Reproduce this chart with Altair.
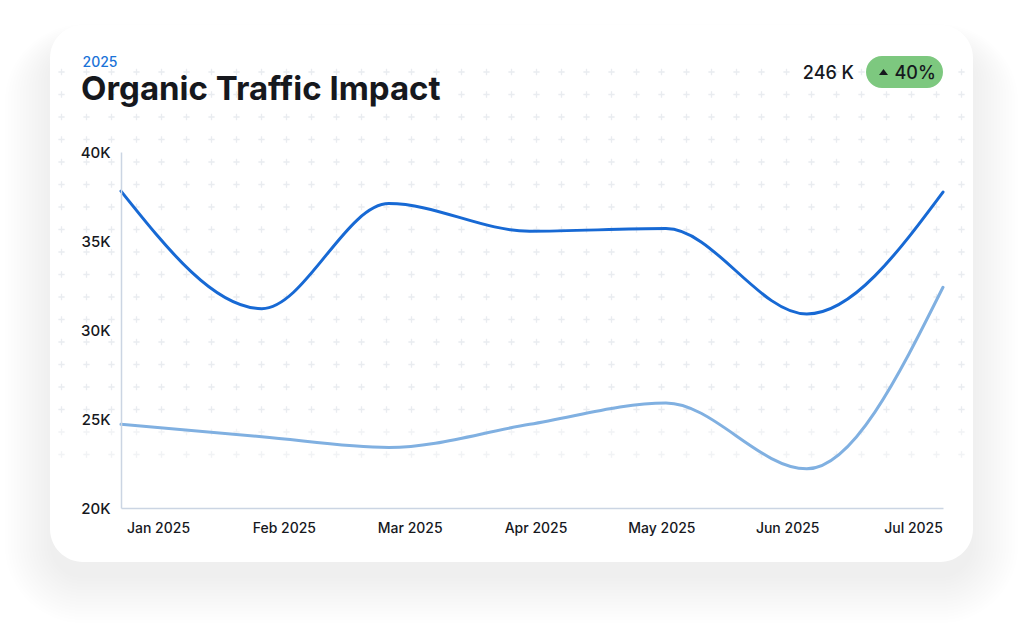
import altair as alt
import pandas as pd

# ---- data -------------------------------------------------------------
months = ["2025-01-01", "2025-02-01", "2025-03-01", "2025-04-01",
          "2025-05-01", "2025-06-01", "2025-07-01"]
organic = [37800, 31200, 37100, 35550, 35700, 30900, 37750]
previous = [24700, 24000, 23400, 24700, 25900, 22200, 32400]

x_labels = ["Jan 2025", "Feb 2025", "Mar 2025", "Apr 2025",
            "May 2025", "Jun 2025", "Jul 2025"]
y_ticks = [20000, 25000, 30000, 35000, 40000]

kicker = "2025"
title = "Organic Traffic Impact"
total_label = "246 K"
change_label = "40%"

series_names = ["Organic traffic", "Previous period"]
series_colors = ["#1769d4", "#80b0e1"]

# ---- layout -----------------------------------------------------------
W, H = 822, 356            # plot area
PL, PT = 121, 152          # plot origin inside the 1024x639 page
FONT = "Inter"
INK = "#16181d"
AXIS_LINE = "#cbd5e3"

rows = []
for m, a, b in zip(months, organic, previous):
    rows.append({"month": m, "series": series_names[0], "visits": a})
    rows.append({"month": m, "series": series_names[1], "visits": b})
df = pd.DataFrame(rows)

one = pd.DataFrame({"k": [0]})

# card geometry in page pixels, converted to plot-relative pixels
cx0, cy0, cx1, cy1, cr = 50, 25, 973, 562, 33

layers = []

# soft drop shadow built from stacked translucent rounded rects
for i in range(16):
    e = 3 * i
    layers.append(
        alt.Chart(one).mark_rect(
            cornerRadius=cr + e, color="#55658c", opacity=0.0065
        ).encode(
            x=alt.value(cx0 - e - PL), x2=alt.value(cx1 + e - PL),
            y=alt.value(cy0 + 22 - e * 0.5 - PT), y2=alt.value(cy1 + 16 + e - PT),
        )
    )

# white card
layers.append(
    alt.Chart(one).mark_rect(cornerRadius=cr, color="white").encode(
        x=alt.value(cx0 - PL), x2=alt.value(cx1 - PL),
        y=alt.value(cy0 - PT), y2=alt.value(cy1 - PT),
    )
)

# faint plus-sign backdrop pattern
n_cols, n_rows = 37, 18
pattern = (
    alt.Chart(alt.sequence(0, n_cols * n_rows, as_="i"))
    .transform_calculate(
        col=f"datum.i % {n_cols}",
        row=f"floor(datum.i / {n_cols})",
    )
    .transform_calculate(
        px=f"61.5 + 25 * datum.col - {PL}",
        py=f"72 + 22.5 * datum.row - {PT}",
        op=f"datum.row >= {n_rows - 2} ? 0.6 : 1",
    )
    .mark_point(
        shape="M-1,0L1,0M0,-1L0,1", filled=False, size=40,
        strokeWidth=1.3, color="#e9ecf0",
    )
    .encode(
        x=alt.X("px:Q", scale=None, axis=None),
        y=alt.Y("py:Q", scale=None, axis=None),
        opacity=alt.Opacity("op:Q", scale=None, legend=None),
    )
)
layers.append(pattern)

# the two traffic lines
lines = (
    alt.Chart(df)
    .mark_line(interpolate="monotone", strokeWidth=3, strokeCap="round")
    .encode(
        x=alt.X("month:T", scale=alt.Scale(nice=False),
                axis=alt.Axis(orient="bottom", labels=False, ticks=False,
                              grid=False, title=None, domainColor=AXIS_LINE,
                              domainWidth=1.5, zindex=1)),
        y=alt.Y("visits:Q",
                scale=alt.Scale(domain=[y_ticks[0], y_ticks[-1]], nice=False, zero=False),
                axis=alt.Axis(values=y_ticks, labelExpr="datum.value / 1000 + 'K'",
                              ticks=False, grid=False, title=None,
                              domainColor=AXIS_LINE, domainWidth=1.5,
                              labelFont=FONT, labelFontSize=15, labelFontWeight=500,
                              labelColor=INK, labelPadding=11, zindex=1)),
        color=alt.Color("series:N",
                        scale=alt.Scale(domain=series_names, range=series_colors),
                        legend=None),
    )
)
layers.append(lines)

# month labels along the bottom
month_axis = (
    alt.Chart(pd.DataFrame({"label": x_labels}))
    .mark_point(opacity=0)
    .encode(
        x=alt.X("label:N", sort=x_labels,
                scale=alt.Scale(type="point", domain=x_labels, range=[37, 792],
                                padding=0),
                axis=alt.Axis(orient="bottom", domain=False, ticks=False, grid=False,
                              title=None, labelAngle=0, labelFont=FONT,
                              labelFontSize=14, labelFontWeight=500, labelColor=INK,
                              labelPadding=13, labelBaseline="top", zindex=1)),
        y=alt.value(0),
    )
)
layers.append(month_axis)

# header texts
layers.append(
    alt.Chart(one).mark_text(
        text=kicker, font=FONT, fontSize=14, fontWeight=500, color="#1a73d8",
        align="left", baseline="alphabetic",
    ).encode(x=alt.value(82.5 - PL), y=alt.value(67 - PT))
)
layers.append(
    alt.Chart(one).mark_text(
        text=title, font=FONT, fontSize=33, fontWeight=700, color=INK,
        align="left", baseline="alphabetic",
    ).encode(x=alt.value(81 - PL), y=alt.value(100 - PT))
)
layers.append(
    alt.Chart(one).mark_text(
        text=total_label, font=FONT, fontSize=18, fontWeight=500, color=INK,
        align="right", baseline="alphabetic",
    ).encode(x=alt.value(854 - PL), y=alt.value(78.5 - PT))
)

# green change badge
layers.append(
    alt.Chart(one).mark_rect(cornerRadius=16, color="#7dc87f").encode(
        x=alt.value(866 - PL), x2=alt.value(943 - PL),
        y=alt.value(56 - PT), y2=alt.value(88 - PT),
    )
)
layers.append(
    alt.Chart(one).mark_point(
        shape="M-1,0.65L1,0.65L0,-0.65Z", filled=True, size=81,
        color=INK, opacity=1,
    ).encode(x=alt.value(883.5 - PL), y=alt.value(72 - PT))
)
layers.append(
    alt.Chart(one).mark_text(
        text=change_label, font=FONT, fontSize=18, fontWeight=500, color=INK,
        align="left", baseline="alphabetic",
    ).encode(x=alt.value(894.5 - PL), y=alt.value(78.5 - PT))
)

chart = (
    alt.layer(*layers)
    .resolve_scale(x="independent", y="independent")
    .properties(
        width=W, height=H,
        autosize=alt.AutoSizeParams(type="none"),
        padding={"left": PL, "top": PT, "right": 1024 - PL - W, "bottom": 639 - PT - H},
        background="white",
    )
    .configure_view(stroke=None)
)

chart.save("out.html", embed_options={"renderer": "svg", "actions": False})
